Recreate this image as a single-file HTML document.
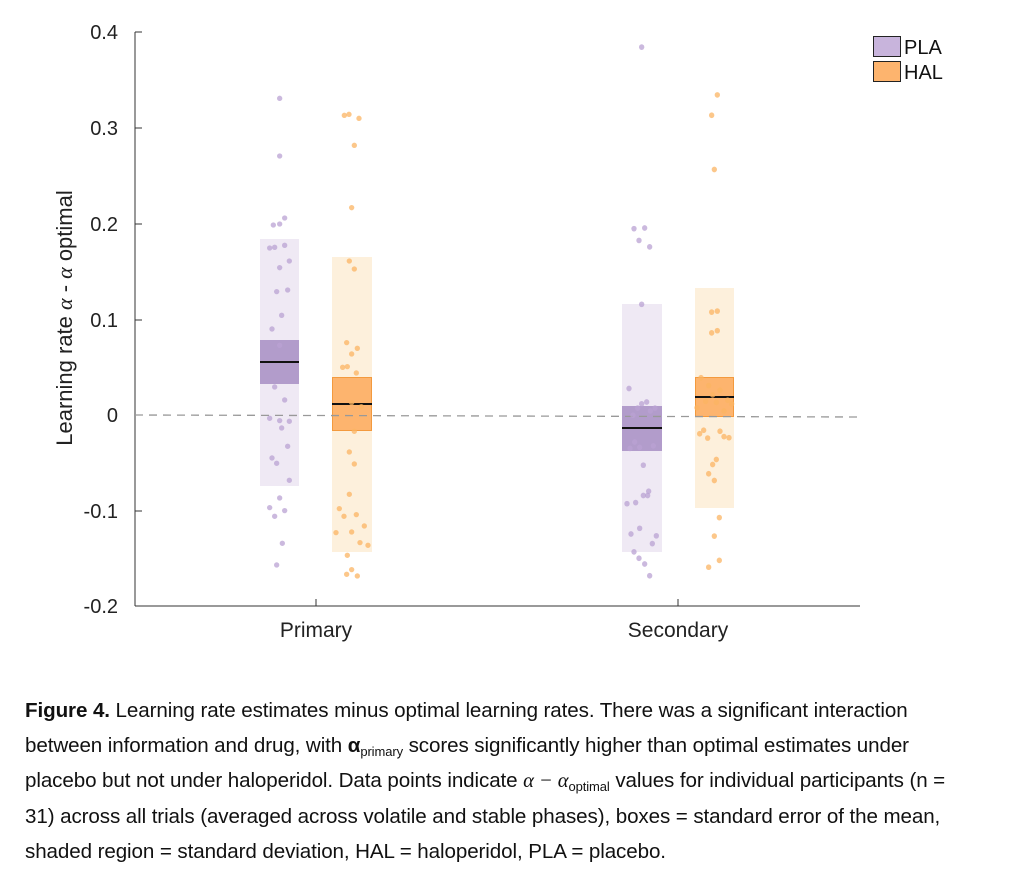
<!DOCTYPE html>
<html><head><style>
body{margin:0;background:#fff;width:1023px;height:874px;overflow:hidden;font-family:"Liberation Sans",sans-serif}
.cap{position:absolute;left:25px;top:693px;width:948px;font-size:20.6px;line-height:35px;color:#111;letter-spacing:-0.1px}
.cap sub{font-size:13px;line-height:0;vertical-align:-4px}
</style></head><body>
<svg width="1023" height="680" style="position:absolute;left:0;top:0" font-family="Liberation Sans, sans-serif">
<line x1="135" y1="32" x2="135" y2="606" stroke="#333" stroke-width="1"/>
<line x1="135" y1="606" x2="860" y2="606" stroke="#333" stroke-width="1"/>
<g stroke="#333"><line x1="135" y1="32" x2="142" y2="32"/><line x1="135" y1="128" x2="142" y2="128"/><line x1="135" y1="224" x2="142" y2="224"/><line x1="135" y1="320" x2="142" y2="320"/><line x1="135" y1="415" x2="142" y2="415"/><line x1="135" y1="511" x2="142" y2="511"/><line x1="316" y1="606" x2="316" y2="599"/><line x1="678" y1="606" x2="678" y2="599"/></g>
<g font-size="20" fill="#222" text-anchor="end"><text x="118" y="39">0.4</text><text x="118" y="135">0.3</text><text x="118" y="231">0.2</text><text x="118" y="327">0.1</text><text x="118" y="422">0</text><text x="118" y="518">-0.1</text><text x="118" y="613">-0.2</text></g>
<g font-size="21" fill="#222" text-anchor="middle"><text x="316" y="637">Primary</text><text x="678" y="637">Secondary</text></g>
<text transform="translate(72,318) rotate(-90)" font-size="22" fill="#222" text-anchor="middle">Learning rate <tspan font-family="Liberation Serif" font-style="italic">α</tspan> - <tspan font-family="Liberation Serif" font-style="italic">α</tspan> optimal</text>
<rect x="260" y="239" width="39" height="247" fill="#efe9f4"/>
<rect x="332" y="257" width="40" height="295" fill="#fdf0dc"/>
<rect x="622" y="304" width="40" height="248" fill="#efe9f4"/>
<rect x="695" y="288" width="39" height="220" fill="#fdf0dc"/>
<rect x="260" y="340" width="39" height="44" fill="#b29ccb"/>
<rect x="332.5" y="377.5" width="39" height="53" fill="#fdb46e" stroke="#f39a3e"/>
<rect x="622" y="406" width="40" height="45" fill="#b29ccb"/>
<rect x="695.5" y="377.5" width="38" height="39" fill="#fdb46e" stroke="#f39a3e"/>
<line x1="135" y1="415" x2="860" y2="417" stroke="#999" stroke-width="1.3" stroke-dasharray="8,6"/>
<g stroke="#111" stroke-width="2"><line x1="260" y1="362" x2="299" y2="362"/><line x1="332" y1="404" x2="372" y2="404"/><line x1="622" y1="428" x2="662" y2="428"/><line x1="695" y1="397" x2="734" y2="397"/></g>
<g transform="translate(240,80) scale(0.3333)" fill-opacity="0.75">
<g fill="#b9a2d3">
<circle cx="119" cy="55" r="8"/><circle cx="119" cy="228" r="8"/><circle cx="100" cy="435" r="8"/><circle cx="119" cy="432" r="8"/><circle cx="134" cy="414" r="8"/><circle cx="89" cy="504" r="8"/><circle cx="104" cy="502" r="8"/><circle cx="134" cy="496" r="8"/><circle cx="148" cy="543" r="8"/><circle cx="119" cy="563" r="8"/><circle cx="110" cy="635" r="8"/><circle cx="143" cy="630" r="8"/><circle cx="125" cy="706" r="8"/><circle cx="96" cy="747" r="8"/><circle cx="119" cy="796" r="8"/><circle cx="104" cy="921" r="8"/><circle cx="134" cy="960" r="8"/><circle cx="89" cy="1015" r="8"/><circle cx="119" cy="1022" r="8"/><circle cx="148" cy="1024" r="8"/><circle cx="125" cy="1044" r="8"/><circle cx="143" cy="1099" r="8"/><circle cx="96" cy="1134" r="8"/><circle cx="110" cy="1150" r="8"/><circle cx="148" cy="1201" r="8"/><circle cx="119" cy="1254" r="8"/><circle cx="89" cy="1283" r="8"/><circle cx="104" cy="1309" r="8"/><circle cx="134" cy="1292" r="8"/><circle cx="127" cy="1390" r="8"/><circle cx="110" cy="1455" r="8"/>
</g>
<g fill="#fbb463">
<circle cx="313" cy="106" r="8"/><circle cx="327" cy="103" r="8"/><circle cx="357" cy="115" r="8"/><circle cx="343" cy="196" r="8"/><circle cx="335" cy="383" r="8"/><circle cx="328" cy="543" r="8"/><circle cx="343" cy="567" r="8"/><circle cx="320" cy="788" r="8"/><circle cx="352" cy="805" r="8"/><circle cx="335" cy="822" r="8"/><circle cx="308" cy="862" r="8"/><circle cx="322" cy="860" r="8"/><circle cx="349" cy="879" r="8"/><circle cx="335" cy="968" r="8"/><circle cx="364" cy="980" r="8"/><circle cx="343" cy="1054" r="8"/><circle cx="328" cy="1116" r="8"/><circle cx="343" cy="1152" r="8"/><circle cx="328" cy="1243" r="8"/><circle cx="298" cy="1286" r="8"/><circle cx="312" cy="1309" r="8"/><circle cx="349" cy="1304" r="8"/><circle cx="373" cy="1338" r="8"/><circle cx="288" cy="1358" r="8"/><circle cx="335" cy="1356" r="8"/><circle cx="360" cy="1388" r="8"/><circle cx="384" cy="1396" r="8"/><circle cx="322" cy="1426" r="8"/><circle cx="335" cy="1469" r="8"/><circle cx="320" cy="1483" r="8"/><circle cx="352" cy="1488" r="8"/>
</g></g>
<g transform="translate(600,30) scale(0.3333,0.3567)" fill-opacity="0.75">
<g fill="#b9a2d3">
<circle cx="125" cy="48" r="8"/><circle cx="102" cy="557" r="8"/><circle cx="134" cy="555" r="8"/><circle cx="117" cy="590" r="8"/><circle cx="149" cy="608" r="8"/><circle cx="125" cy="769" r="8"/><circle cx="87" cy="1005" r="8"/><circle cx="125" cy="1048" r="8"/><circle cx="140" cy="1043" r="8"/><circle cx="113" cy="1060" r="8"/><circle cx="165" cy="1060" r="8"/><circle cx="151" cy="1068" r="8"/><circle cx="99" cy="1080" r="8"/><circle cx="104" cy="1155" r="8"/><circle cx="90" cy="1173" r="8"/><circle cx="119" cy="1170" r="8"/><circle cx="160" cy="1166" r="8"/><circle cx="130" cy="1220" r="8"/><circle cx="146" cy="1293" r="8"/><circle cx="130" cy="1305" r="8"/><circle cx="143" cy="1305" r="8"/><circle cx="81" cy="1328" r="8"/><circle cx="107" cy="1325" r="8"/><circle cx="119" cy="1397" r="8"/><circle cx="93" cy="1413" r="8"/><circle cx="169" cy="1418" r="8"/><circle cx="157" cy="1440" r="8"/><circle cx="102" cy="1463" r="8"/><circle cx="117" cy="1481" r="8"/><circle cx="134" cy="1497" r="8"/><circle cx="149" cy="1530" r="8"/>
</g>
<g fill="#fbb463">
<circle cx="352" cy="182" r="8"/><circle cx="335" cy="239" r="8"/><circle cx="343" cy="391" r="8"/><circle cx="335" cy="791" r="8"/><circle cx="352" cy="788" r="8"/><circle cx="335" cy="849" r="8"/><circle cx="352" cy="843" r="8"/><circle cx="303" cy="975" r="8"/><circle cx="326" cy="997" r="8"/><circle cx="360" cy="1010" r="8"/><circle cx="338" cy="1023" r="8"/><circle cx="317" cy="1041" r="8"/><circle cx="349" cy="1044" r="8"/><circle cx="383" cy="1038" r="8"/><circle cx="291" cy="1059" r="8"/><circle cx="395" cy="1048" r="8"/><circle cx="372" cy="1068" r="8"/><circle cx="299" cy="1132" r="8"/><circle cx="311" cy="1122" r="8"/><circle cx="323" cy="1144" r="8"/><circle cx="360" cy="1125" r="8"/><circle cx="372" cy="1140" r="8"/><circle cx="387" cy="1143" r="8"/><circle cx="349" cy="1204" r="8"/><circle cx="338" cy="1218" r="8"/><circle cx="326" cy="1244" r="8"/><circle cx="343" cy="1263" r="8"/><circle cx="358" cy="1367" r="8"/><circle cx="343" cy="1419" r="8"/><circle cx="358" cy="1487" r="8"/><circle cx="326" cy="1506" r="8"/>
</g></g>
<rect x="873.5" y="36.5" width="27" height="20" fill="#c8b4dc" stroke="#222"/>
<rect x="873.5" y="61.5" width="27" height="20" fill="#fdb46e" stroke="#222"/>
<g font-size="20" fill="#111"><text x="904" y="54">PLA</text><text x="904" y="79">HAL</text></g>
</svg>
<div class="cap"><b>Figure 4.</b> Learning rate estimates minus optimal learning rates. There was a significant interaction between information and drug, with <b>α</b><sub>primary</sub> scores significantly higher than optimal estimates under placebo but not under haloperidol. Data points indicate <i style="font-family:'Liberation Serif'">α −  α</i><sub>optimal</sub> values for individual participants (n = 31) across all trials (averaged across volatile and stable phases), boxes = standard error of the mean, shaded region = standard deviation, HAL = haloperidol, PLA = placebo.</div>
</body></html>
